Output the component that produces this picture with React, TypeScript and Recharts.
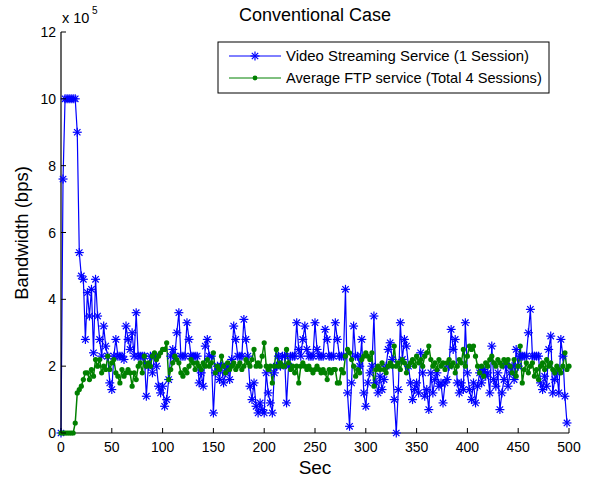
import { LineChart, Line, XAxis, YAxis } from "recharts";

// bandwidth in units of 1e5 bps, one sample every 2 s (0..500 s)
const videoBw = [
  0, 7.6, 10, 10, 10, 10, 10, 10, 9.0, 5.4,
  4.7, 4.6, 2.8, 4.2, 3.5, 4.3, 2.4, 4.6, 3.5, 2.8,
  2.3, 3.2, 2.6, 2.3, 1.5, 1.3, 2.3, 2.8, 2.3, 2.3,
  2.3, 2.2, 3.2, 2.8, 2.5, 3.0, 2.3, 3.6, 2.3, 2.3,
  2.3, 2.3, 1.1, 2.0, 2.3, 1.8, 2.3, 2.0, 1.4, 1.2,
  1.4, 0.8, 1.0, 1.6, 2.3, 2.5, 2.3, 3.0, 3.6, 2.3,
  2.3, 2.3, 3.3, 2.8, 2.3, 2.3, 2.3, 2.3, 1.5, 1.8,
  1.4, 2.6, 2.8, 2.3, 2.3, 0.6, 1.8, 2.0, 1.6, 2.0,
  1.5, 1.8, 2.0, 1.6, 2.2, 3.2, 2.8, 2.3, 2.3, 2.3,
  3.4, 2.8, 2.3, 1.4, 1.0, 1.5, 0.8, 0.6, 0.9, 0.7,
  0.6, 1.8, 1.2, 0.9, 0.6, 1.8, 2.0, 2.3, 2.0, 2.3,
  2.3, 0.9, 2.0, 2.3, 2.3, 2.3, 3.3, 2.5, 2.3, 2.8,
  3.2, 2.5, 2.3, 2.3, 2.3, 3.3, 2.5, 2.3, 2.3, 2.3,
  3.1, 2.8, 2.3, 2.3, 2.3, 3.3, 2.8, 2.3, 2.3, 2.3,
  4.3, 1.2, 0.2, 1.5, 3.2, 2.3, 2.3, 2.0, 2.8, 1.2,
  0.8, 1.5, 1.8, 2.0, 3.5, 1.5, 1.2, 1.7, 1.3, 1.6,
  2.0, 2.5, 2.7, 2.2, 1.0, 0.0, 1.3, 3.3, 2.2, 2.8,
  2.6, 2.0, 1.5, 1.0, 1.3, 1.5, 1.2, 2.4, 1.8, 1.1,
  1.3, 0.7, 1.8, 1.2, 1.6, 1.8, 1.4, 1.5, 0.9, 1.5,
  1.6, 2.0, 3.1, 2.5, 2.8, 1.5, 1.2, 1.5, 1.3, 3.3,
  1.8, 1.3, 1.0, 1.5, 0.9, 1.4, 1.8, 1.5, 1.9, 1.7,
  1.8, 1.2, 2.6, 1.6, 1.4, 1.8, 0.7, 1.2, 1.6, 2.0,
  1.4, 1.8, 2.0, 1.6, 2.5, 2.0, 2.3, 2.3, 2.3, 2.3,
  3.0, 3.7, 2.3, 2.3, 2.3, 2.3, 1.5, 1.3, 1.7, 1.4,
  2.5, 2.9, 1.2, 1.6, 1.8, 1.2, 2.8, 2.3, 1.1, 0.3,
  null,
];

const ftpBw = [
  0, 0, 0, 0, 0, 0, 0, 0.3, 1.2, 1.3,
  1.4, 1.6, 1.8, 1.8, 1.6, 1.9, 1.7, 2.2, 2.0, 2.2,
  1.8, 2.0, 1.9, 2.3, 1.9, 2.1, 2.2, 1.8, 1.7, 1.5,
  1.9, 1.7, 1.8, 1.9, 1.8, 1.4, 1.8, 1.6, 2.0, 2.1,
  1.8, 2.3, 2.0, 2.1, 2.0, 2.3, 2.4, 2.2, 2.3, 2.4,
  2.5, 2.5, 2.7, 1.6, 1.9, 2.1, 2.3, 2.2, 2.1, 1.8,
  1.7, 1.9, 1.8, 2.0, 2.2, 2.1, 1.9, 2.1, 2.0, 1.9,
  2.1, 2.0, 2.2, 2.0, 2.1, 2.4, 1.8, 2.0, 1.9, 2.3,
  2.0, 1.8, 2.1, 1.9, 2.0, 2.1, 1.9, 2.0, 2.1, 1.9,
  2.0, 2.2, 2.1, 2.0, 2.2, 2.5, 2.0, 2.1, 2.0, 2.3,
  2.7, 2.0, 1.9, 2.0, 1.5, 2.0, 2.5, 2.0, 2.1, 2.0,
  2.0, 2.5, 2.1, 1.9, 2.0, 1.8, 2.0, 1.5, 2.0, 2.1,
  2.0, 1.9, 2.0, 1.9, 1.8, 1.9, 2.0, 1.9, 1.8, 1.9,
  1.8, 1.6, 1.9, 1.8, 1.9, 1.9, 1.5, 1.5, 1.9, 1.8,
  2.3, 2.5, 2.4, 2.2, 2.0, 1.7, 1.9, 1.8, 2.2, 2.3,
  2.4, 2.3, 2.2, 2.4, 1.4, 1.9, 2.0, 1.9, 2.1, 1.9,
  1.8, 2.0, 2.1, 2.0, 2.6, 2.0, 2.1, 1.9, 2.2, 2.1,
  1.8, 2.0, 2.1, 2.2, 2.0, 2.3, 2.1, 2.2, 2.0, 2.3,
  2.4, 2.6, 2.2, 2.0, 2.1, 1.9, 2.2, 2.0, 2.1, 1.9,
  2.1, 2.2, 2.0, 2.1, 1.8, 2.0, 2.2, 2.1, 2.5, 2.0,
  2.3, 2.6, 2.5, 2.6, 2.3, 2.0, 1.8, 2.0, 1.7, 2.1,
  2.0, 2.2, 2.3, 2.1, 2.0, 2.2, 2.1, 2.0, 2.2, 2.1,
  2.2, 2.0, 1.8, 2.2, 1.7, 2.0, 2.6, 1.5, 1.9, 2.1,
  1.8, 2.0, 2.1, 1.7, 1.9, 1.6, 2.0, 2.1, 1.9, 2.2,
  2.0, 2.1, 1.9, 1.8, 2.0, 1.9, 1.8, 2.0, 2.4, 1.9,
  2.0,
];

const SAMPLE_STEP = 2;
const seconds = videoBw.map((_, i) => i * SAMPLE_STEP);

const xTicks = [0, 50, 100, 150, 200, 250, 300, 350, 400, 450, 500];
const yTicks = [0, 2, 4, 6, 8, 10, 12];

const data = seconds.map((s, i) => ({ sec: s, video: videoBw[i], ftp: ftpBw[i] }));

const FONT = "'Liberation Sans', Arial, Helvetica, sans-serif";
const BLUE = "#0000ff";
const GREEN = "#008000";

const Star = ({ cx, cy, color = BLUE }: any) => {
  const r = 4.5;
  const d = 3.2;
  return (
    <g stroke={color} strokeWidth={1.2}>
      <line x1={cx - r} y1={cy} x2={cx + r} y2={cy} />
      <line x1={cx} y1={cy - r} x2={cx} y2={cy + r} />
      <line x1={cx - d} y1={cy - d} x2={cx + d} y2={cy + d} />
      <line x1={cx - d} y1={cy + d} x2={cx + d} y2={cy - d} />
    </g>
  );
};

const starDot = (props: any) => {
  const { cx, cy, index, value } = props;
  if (cx == null || cy == null || value == null) return <g key={index} />;
  return <Star key={index} cx={cx} cy={cy} />;
};

const greenDot = (props: any) => {
  const { cx, cy, index } = props;
  if (cx == null || cy == null) return <g key={index} />;
  return <circle key={index} cx={cx} cy={cy} r={2.6} fill={GREEN} stroke="none" />;
};

// MATLAB style inward ticks
const BottomTick = ({ x, y, payload }: any) => (
  <g>
    <line x1={x} y1={y} x2={x} y2={y - 5} stroke="#000" />
    <text x={x} y={y + 19} textAnchor="middle" fontSize={14} fontFamily={FONT} fill="#000">
      {payload.value}
    </text>
  </g>
);

const TopTick = ({ x, y }: any) => <line x1={x} y1={y} x2={x} y2={y + 5} stroke="#000" />;

const LeftTick = ({ x, y, payload }: any) => (
  <g>
    <line x1={x} y1={y} x2={x + 5} y2={y} stroke="#000" />
    <text x={x - 5} y={y + 5} textAnchor="end" fontSize={14} fontFamily={FONT} fill="#000">
      {payload.value}
    </text>
  </g>
);

const RightTick = ({ x, y }: any) => <line x1={x} y1={y} x2={x - 5} y2={y} stroke="#000" />;

const App = () => {
  return (
    <div style={{ position: "absolute", left: 0, top: 0, width: 589, height: 480, background: "#fff" }}>
      <LineChart
        width={589}
        height={480}
        data={data}
        margin={{ top: 32, right: 20, bottom: 0, left: 0 }}
      >
        <XAxis
          dataKey="sec"
          type="number"
          domain={[0, 500]}
          ticks={xTicks}
          interval={0}
          height={47}
          tickSize={0}
          tickMargin={0}
          tick={<BottomTick />}
          axisLine={{ stroke: "#000", strokeWidth: 1.2 }}
          tickLine={false}
        />
        <XAxis
          xAxisId="top"
          orientation="top"
          dataKey="sec"
          type="number"
          domain={[0, 500]}
          ticks={xTicks}
          interval={0}
          height={0}
          tickSize={0}
          tickMargin={0}
          tick={<TopTick />}
          axisLine={{ stroke: "#000", strokeWidth: 1.2 }}
          tickLine={false}
        />
        <YAxis
          type="number"
          domain={[0, 12]}
          ticks={yTicks}
          interval={0}
          width={61}
          tickSize={0}
          tickMargin={0}
          tick={<LeftTick />}
          axisLine={{ stroke: "#000", strokeWidth: 1.2 }}
          tickLine={false}
        />
        <YAxis
          yAxisId="right"
          orientation="right"
          type="number"
          domain={[0, 12]}
          ticks={yTicks}
          interval={0}
          width={0}
          tickSize={0}
          tickMargin={0}
          tick={<RightTick />}
          axisLine={{ stroke: "#000", strokeWidth: 1.2 }}
          tickLine={false}
        />
        <Line
          type="linear"
          dataKey="video"
          stroke={BLUE}
          strokeWidth={1.2}
          dot={starDot}
          activeDot={false}
          isAnimationActive={false}
        />
        <Line
          type="linear"
          dataKey="ftp"
          stroke={GREEN}
          strokeWidth={1.5}
          dot={greenDot}
          activeDot={false}
          isAnimationActive={false}
        />
      </LineChart>
      <svg
        width={589}
        height={480}
        style={{ position: "absolute", left: 0, top: 0, pointerEvents: "none" }}
        fontFamily={FONT}
      >
        <text x={315} y={21} textAnchor="middle" fontSize={18}>
          Conventional Case
        </text>
        <text x={62} y={23} fontSize={14.5}>
          x 10
        </text>
        <text x={92} y={14} fontSize={10}>
          5
        </text>
        <text x={315} y={474} textAnchor="middle" fontSize={19}>
          Sec
        </text>
        <text x={28} y={233} textAnchor="middle" fontSize={18.5} transform="rotate(-90 28 233)">
          Bandwidth (bps)
        </text>
        <rect x={218} y={42} width={331} height={51} fill="#fff" stroke="#000" strokeWidth={1} />
        <line x1={229} y1={56} x2={281} y2={56} stroke={BLUE} strokeWidth={1} />
        <Star cx={255} cy={56} />
        <text x={286} y={61} fontSize={14.9}>
          Video Streaming Service (1 Session)
        </text>
        <line x1={229} y1={78} x2={281} y2={78} stroke={GREEN} strokeWidth={1} />
        <circle cx={255} cy={78} r={2.4} fill={GREEN} />
        <text x={286} y={83} fontSize={14.6}>
          Average FTP service (Total 4 Sessions)
        </text>
      </svg>
    </div>
  );
};

export default App;
